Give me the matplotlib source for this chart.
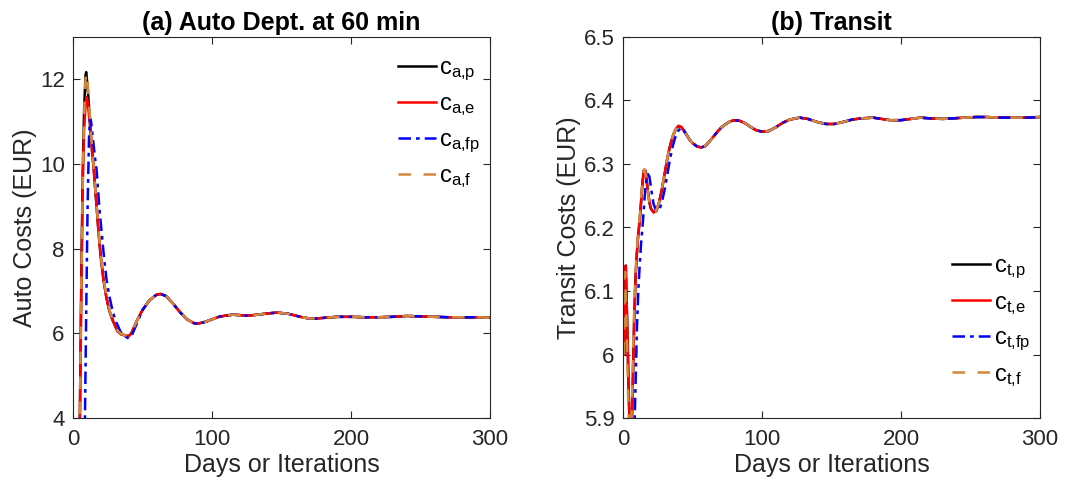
import matplotlib
matplotlib.use("Agg")
import matplotlib.pyplot as plt
import numpy as np

plt.rcParams['font.family'] = ['Liberation Sans', 'DejaVu Sans']

# ---------------- Panel (a): Auto costs ----------------
auto_tail_days = [46, 50, 55, 60, 63, 67, 72, 77, 82, 87, 90, 95, 100, 105, 110, 115, 120,
                  125, 130, 135, 140, 147, 155, 160, 165, 170, 175, 182, 190, 200, 210,
                  220, 230, 240, 250, 260, 270, 280, 290, 300]
auto_tail_vals = [6.30, 6.55, 6.78, 6.91, 6.93, 6.88, 6.70, 6.50, 6.33, 6.24, 6.23, 6.27, 6.33,
                  6.39, 6.42, 6.44, 6.43, 6.42, 6.43, 6.45, 6.47, 6.49, 6.46, 6.42, 6.38, 6.35,
                  6.35, 6.37, 6.39, 6.39, 6.38, 6.38, 6.39, 6.41, 6.40, 6.39, 6.38, 6.38, 6.38,
                  6.37]

auto_p_days = [1, 3, 4, 5, 6, 7, 8, 9, 9.5, 10, 11, 12, 13, 14, 15, 16, 17, 18, 19, 20, 22, 24,
               26, 28, 30, 32, 35, 38, 40, 42, 44]
auto_p_vals = [0.0, 1.5, 2.5, 4.2, 7.4, 9.8, 11.3, 12.1, 12.17, 12.0, 11.6, 11.1, 10.6, 10.2,
               9.85, 9.4, 9.0, 8.55, 8.15, 7.8, 7.25, 6.85, 6.55, 6.35, 6.2, 6.05, 5.97, 5.95,
               5.93, 6.0, 6.15]

auto_e_days = [1, 3, 4, 5, 6, 7, 8, 9, 9.8, 10.5, 11, 12, 13, 14, 15, 16, 17, 18, 19, 20, 22, 24,
               26, 28, 30, 32, 35, 38, 40, 42, 44]
auto_e_vals = [0.0, 1.5, 2.5, 4.1, 7.0, 9.5, 10.8, 11.4, 11.58, 11.5, 11.3, 11.0, 10.6, 10.2,
               9.85, 9.4, 9.0, 8.55, 8.15, 7.8, 7.25, 6.85, 6.55, 6.35, 6.2, 6.05, 5.97, 5.95,
               5.93, 6.0, 6.15]

auto_f_days = [1, 3, 4, 5, 6, 7, 8, 9, 10, 11, 12, 13, 14, 15, 16, 17, 18, 19, 20, 22, 24,
               26, 28, 30, 32, 35, 38, 40, 42, 44]
auto_f_vals = [0.0, 1.5, 2.5, 4.2, 7.2, 9.6, 11.2, 12.0, 12.15, 11.7, 11.2, 10.7, 10.25,
               9.9, 9.45, 9.05, 8.6, 8.2, 7.85, 7.3, 6.9, 6.58, 6.37, 6.21, 6.06, 5.98, 5.95,
               5.93, 6.0, 6.15]

auto_fp_days = [5, 7, 8, 8.6, 9.5, 10.5, 11.5, 12.2, 13, 14, 15, 16, 17, 18, 19, 20, 21, 22,
                24, 26, 28, 30, 32, 34, 36, 39.5, 42, 44]
auto_fp_vals = [0.0, 2.0, 3.2, 4.0, 6.5, 9.0, 10.6, 11.09, 11.0, 10.7, 10.4, 10.1, 9.85, 9.4,
                8.95, 8.6, 8.25, 7.9, 7.3, 6.9, 6.6, 6.35, 6.2, 6.05, 5.95, 5.89, 5.93, 6.08]

# ---------------- Panel (b): Transit costs ----------------
tr_tail_days = [44, 46, 48, 50, 53, 56, 59, 62, 65, 68, 71, 74, 77, 80, 84, 88, 92, 96, 100,
                105, 110, 115, 120, 127, 133, 140, 146, 152, 158, 165, 172, 180, 186, 192,
                200, 207, 214, 220, 230, 238, 246, 254, 262, 270, 280, 290, 300]
tr_tail_vals = [6.352, 6.345, 6.338, 6.333, 6.328, 6.326, 6.328, 6.335, 6.343, 6.351, 6.358,
                6.363, 6.367, 6.369, 6.368, 6.364, 6.358, 6.353, 6.351, 6.352, 6.358, 6.365,
                6.370, 6.373, 6.371, 6.366, 6.363, 6.363, 6.366, 6.370, 6.372, 6.373, 6.371,
                6.369, 6.369, 6.371, 6.373, 6.372, 6.371, 6.372, 6.373, 6.374, 6.374, 6.373,
                6.373, 6.373, 6.374]

tr_e_days = [1, 2, 3, 4, 5, 6, 7, 8, 9, 10, 11, 12, 13, 14, 15, 16, 17, 18, 19, 20, 22, 24, 26,
             28, 30, 32, 34, 36, 38, 40, 42]
tr_e_vals = [6.0, 6.14, 6.05, 5.95, 5.87, 5.86, 5.95, 6.05, 6.12, 6.16, 6.19, 6.21, 6.24, 6.27,
             6.29, 6.29, 6.275, 6.255, 6.24, 6.23, 6.224, 6.226, 6.24, 6.26, 6.285, 6.31, 6.33,
             6.345, 6.355, 6.36, 6.358]

tr_f_days = [0.5, 1.5, 2.5, 3.5, 4.5, 5.5, 6.5, 7.5, 8.5, 9.5, 10.5, 11.5, 12.5, 13.5, 14.5,
             15.5, 16.5, 17.5, 18.5, 19.5, 21.5, 23.5, 25.5, 27.5, 29.5, 31.5, 33.5, 35.5,
             37.5, 39.5, 41.5]
tr_f_vals = [6.0, 6.13, 6.05, 5.95, 5.87, 5.86, 5.93, 6.03, 6.1, 6.15, 6.18, 6.205, 6.23, 6.26,
             6.285, 6.292, 6.28, 6.262, 6.245, 6.233, 6.225, 6.225, 6.236, 6.255, 6.28, 6.305,
             6.326, 6.342, 6.353, 6.359, 6.359]

tr_fp_days = [1, 3, 5, 7, 8, 9, 10, 11, 12, 13, 14, 15, 16, 17, 18, 19, 20, 21, 22, 24, 26, 28,
              30, 32, 34, 36, 38, 40, 42]
tr_fp_vals = [5.4, 5.5, 5.7, 5.8, 5.86, 5.95, 6.04, 6.1, 6.14, 6.175, 6.2, 6.23, 6.26, 6.278,
              6.284, 6.28, 6.265, 6.25, 6.237, 6.226, 6.227, 6.24, 6.26, 6.285, 6.31, 6.33,
              6.345, 6.353, 6.357]

auto_labels = [r'$\mathregular{c_{a{,}p}}$', r'$\mathregular{c_{a{,}e}}$',
               r'$\mathregular{c_{a{,}fp}}$', r'$\mathregular{c_{a{,}f}}$']
tr_labels = [r'$\mathregular{c_{t{,}p}}$', r'$\mathregular{c_{t{,}e}}$',
             r'$\mathregular{c_{t{,}fp}}$', r'$\mathregular{c_{t{,}f}}$']

BLACK = 'black'
RED = '#FF0000'
BLUE = '#0000FF'
ORANGE = '#D4883A'
TEXTC = '#262626'
TICK_FS = 16
LABEL_FS = 18
TITLE_FS = 18

fig = plt.figure(figsize=(10.65, 4.88), dpi=100)
ax1 = fig.add_axes([73/1065, 1-418/488, 417/1065, 381/488])
ax2 = fig.add_axes([623/1065, 1-418/488, 417/1065, 381/488])


def style(ax):
    ax.tick_params(direction='in', top=True, right=True, labelsize=TICK_FS, colors=TEXTC,
                   length=5, width=0.8, pad=6)
    ax.tick_params(axis='x', pad=8)
    for s in ax.spines.values():
        s.set_color(TEXTC)
        s.set_linewidth(0.8)


lw = 1.8
dashdot = (0, (5, 2, 1.5, 2))
dashed = (0, (5, 5))
ax1.plot(auto_p_days + auto_tail_days, auto_p_vals + auto_tail_vals, color=BLACK, lw=lw,
         label=auto_labels[0])
ax1.plot(auto_e_days + auto_tail_days, auto_e_vals + auto_tail_vals, color=RED, lw=lw,
         label=auto_labels[1])
ax1.plot(auto_fp_days + auto_tail_days[1:], auto_fp_vals + auto_tail_vals[1:], color=BLUE,
         lw=lw, ls=dashdot, label=auto_labels[2])
ax1.plot(auto_f_days + auto_tail_days, auto_f_vals + auto_tail_vals, color=ORANGE, lw=lw,
         ls=dashed, label=auto_labels[3])
ax1.set_xlim(0, 300)
ax1.set_ylim(4, 13)
ax1.set_xticks([0, 100, 200, 300])
ax1.set_yticks([4, 6, 8, 10, 12])
style(ax1)
ax1.set_xlabel('Days or Iterations', fontsize=LABEL_FS, color=TEXTC, labelpad=2)
ax1.set_ylabel('Auto Costs (EUR)', fontsize=LABEL_FS, color=TEXTC, labelpad=2)
ax1.set_title('(a) Auto Dept. at 60 min', fontsize=TITLE_FS, fontweight='bold', pad=5)
ax1.legend(loc='upper right', bbox_to_anchor=(1.01, 0.985), frameon=False, fontsize=17,
           handlelength=1.6, handletextpad=0.15, labelspacing=0.45, borderaxespad=0.2)

ax2.plot(tr_e_days + tr_tail_days, tr_e_vals + tr_tail_vals, color=BLACK, lw=lw,
         label=tr_labels[0])
ax2.plot(tr_e_days + tr_tail_days, tr_e_vals + tr_tail_vals, color=RED, lw=lw,
         label=tr_labels[1])
ax2.plot(tr_fp_days + tr_tail_days, tr_fp_vals + tr_tail_vals, color=BLUE, lw=lw,
         ls=dashdot, label=tr_labels[2])
ax2.plot(tr_f_days + tr_tail_days, tr_f_vals + tr_tail_vals, color=ORANGE, lw=lw,
         ls=dashed, label=tr_labels[3])
ax2.set_xlim(0, 300)
ax2.set_ylim(5.9, 6.5)
ax2.set_xticks([0, 100, 200, 300])
ax2.set_yticks([5.9, 6.0, 6.1, 6.2, 6.3, 6.4, 6.5])
ax2.set_yticklabels(['5.9', '6', '6.1', '6.2', '6.3', '6.4', '6.5'])
style(ax2)
ax2.set_xlabel('Days or Iterations', fontsize=LABEL_FS, color=TEXTC, labelpad=2)
ax2.set_ylabel('Transit Costs (EUR)', fontsize=LABEL_FS, color=TEXTC, labelpad=2)
ax2.set_title('(b) Transit', fontsize=TITLE_FS, fontweight='bold', pad=5)
ax2.legend(loc='lower right', bbox_to_anchor=(1.01, 0.04), frameon=False, fontsize=17,
           handlelength=1.6, handletextpad=0.15, labelspacing=0.45, borderaxespad=0.2)

fig.savefig('out.png', dpi=100)
